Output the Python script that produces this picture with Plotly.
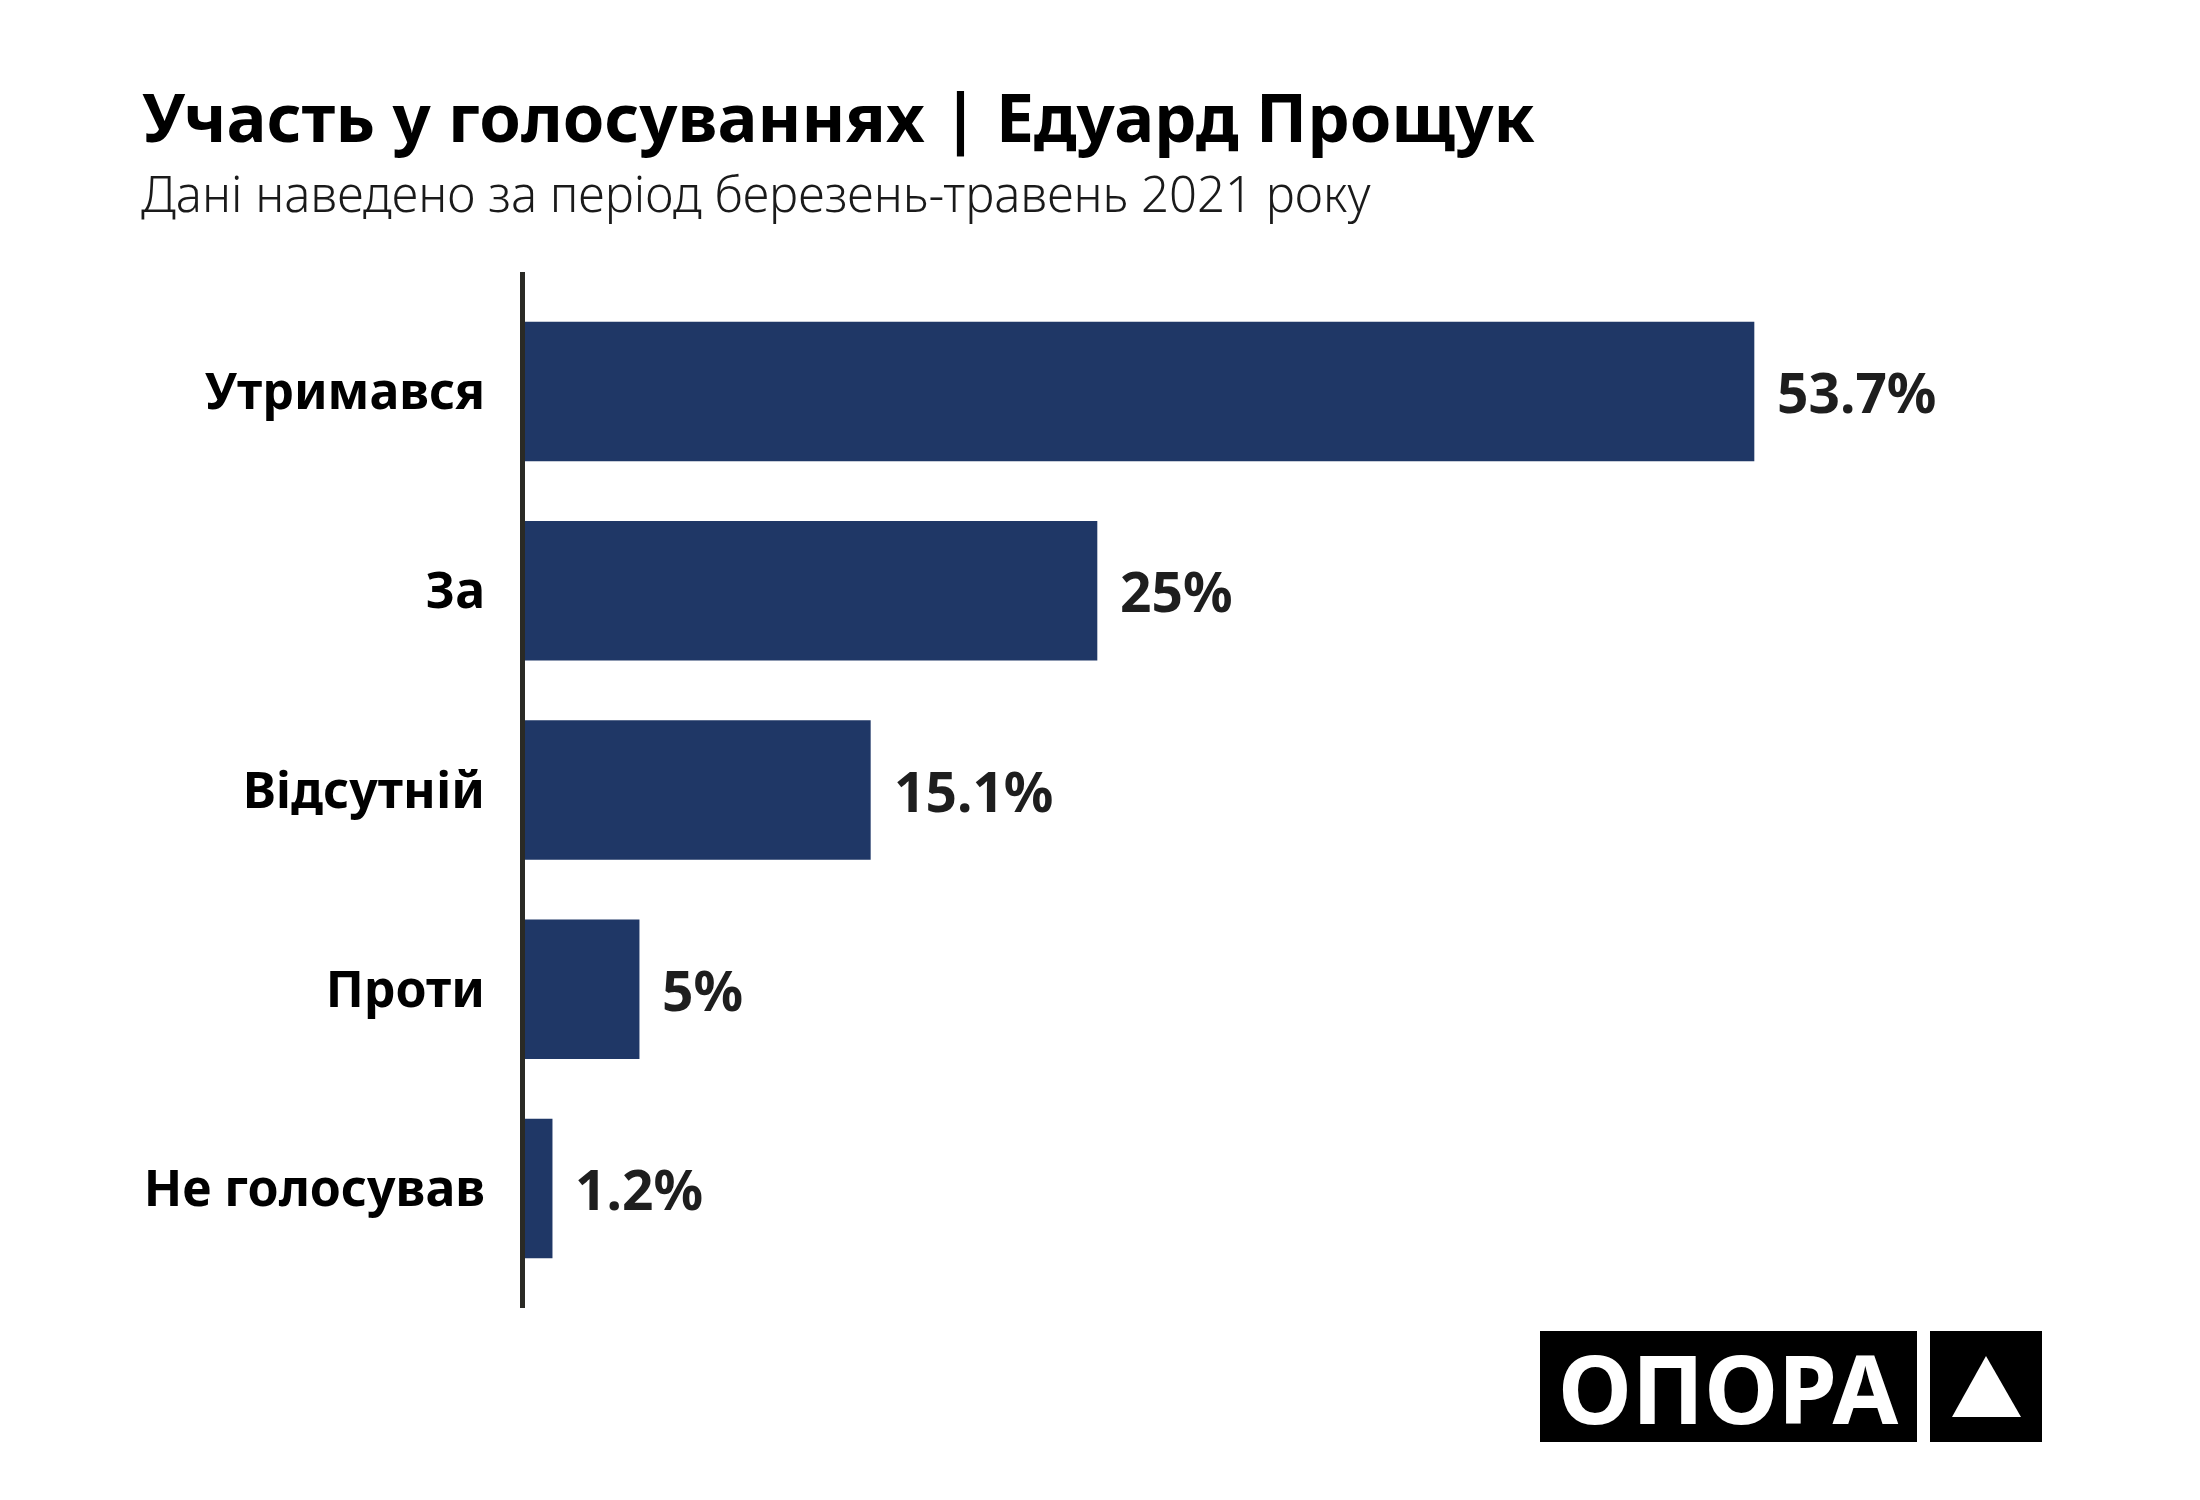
import plotly.graph_objects as go

# data
categories = ["Утримався", "За", "Відсутній", "Проти", "Не голосував"]
values = [53.7, 25, 15.1, 5, 1.2]
value_labels = [f"{v:g}%" for v in values]

title = "Участь у голосуваннях | Едуард Прощук"
subtitle = "Дані наведено за період березень-травень 2021 року"
logo_text = "ОПОРА"

W, H = 2200, 1500
OFF = 8  # page body margin in the browser
ML, MT = 525 - OFF, 272 - OFF
PW, PH = 1488, 1036
MR, MB = W - ML - PW, H - MT - PH
BAR_COLOR = "#1f3766"
FONT = "Noto Sans"


def px(x):
    # reference pixel x -> paper x
    return (x - OFF - ML) / PW


def py(y):
    # reference pixel y (from top) -> paper y
    return (MT + PH - (y - OFF)) / PH


fig = go.Figure(go.Bar(
    x=values,
    y=categories,
    orientation="h",
    marker=dict(color=BAR_COLOR, line=dict(width=0)),
    hoverinfo="skip",
))

annotations = []
for cat, v, lab in zip(categories, values, value_labels):
    annotations.append(dict(
        x=v, y=cat, text=lab, showarrow=False,
        xanchor="left", yanchor="middle", xshift=21,
        font=dict(family=FONT, size=55, color="#1e1e1e", weight="bold"),
    ))

# title + subtitle
annotations.append(dict(
    xref="paper", yref="paper", x=px(140), y=py(116), text=title,
    showarrow=False, xanchor="left", yanchor="middle",
    font=dict(family=FONT, size=67, color="#000000", weight="bold"),
))
annotations.append(dict(
    xref="paper", yref="paper", x=px(139), y=py(193), text=subtitle,
    showarrow=False, xanchor="left", yanchor="middle",
    font=dict(family=FONT, size=49, color="#1a1a1a", weight=300),
))

# logo
annotations.append(dict(
    xref="paper", yref="paper", x=px(1728), y=py(1387), text=logo_text,
    showarrow=False, xanchor="center", yanchor="middle",
    font=dict(family=FONT, size=95, color="#ffffff", weight="bold"),
))

shapes = [
    dict(type="rect", xref="paper", yref="paper", layer="below",
         x0=px(1540), x1=px(1917), y0=py(1442), y1=py(1331),
         fillcolor="#000000", line=dict(width=0)),
    dict(type="rect", xref="paper", yref="paper", layer="below",
         x0=px(1930), x1=px(2042), y0=py(1442), y1=py(1331),
         fillcolor="#000000", line=dict(width=0)),
    dict(type="path", xref="paper", yref="paper",
         path=f"M {px(1952)},{py(1417)} L {px(2021)},{py(1417)} L {px(1986)},{py(1356)} Z",
         fillcolor="#ffffff", line=dict(width=0)),
]

fig.update_layout(
    width=W, height=H,
    margin=dict(l=ML, r=MR, t=MT, b=MB),
    paper_bgcolor="white", plot_bgcolor="white",
    bargap=0.3,
    showlegend=False,
    annotations=annotations,
    shapes=shapes,
)
fig.update_xaxes(range=[0, 65], visible=False)
fig.update_yaxes(
    type="category", categoryorder="array", categoryarray=categories,
    range=[4.6, -0.6],
    showline=True, linecolor="#2a2a25", linewidth=5,
    showgrid=False, zeroline=False, ticks="",
    ticklabelstandoff=25,
    tickfont=dict(family=FONT, size=50, color="#000000", weight="bold"),
)

fig.write_html("out.html")
